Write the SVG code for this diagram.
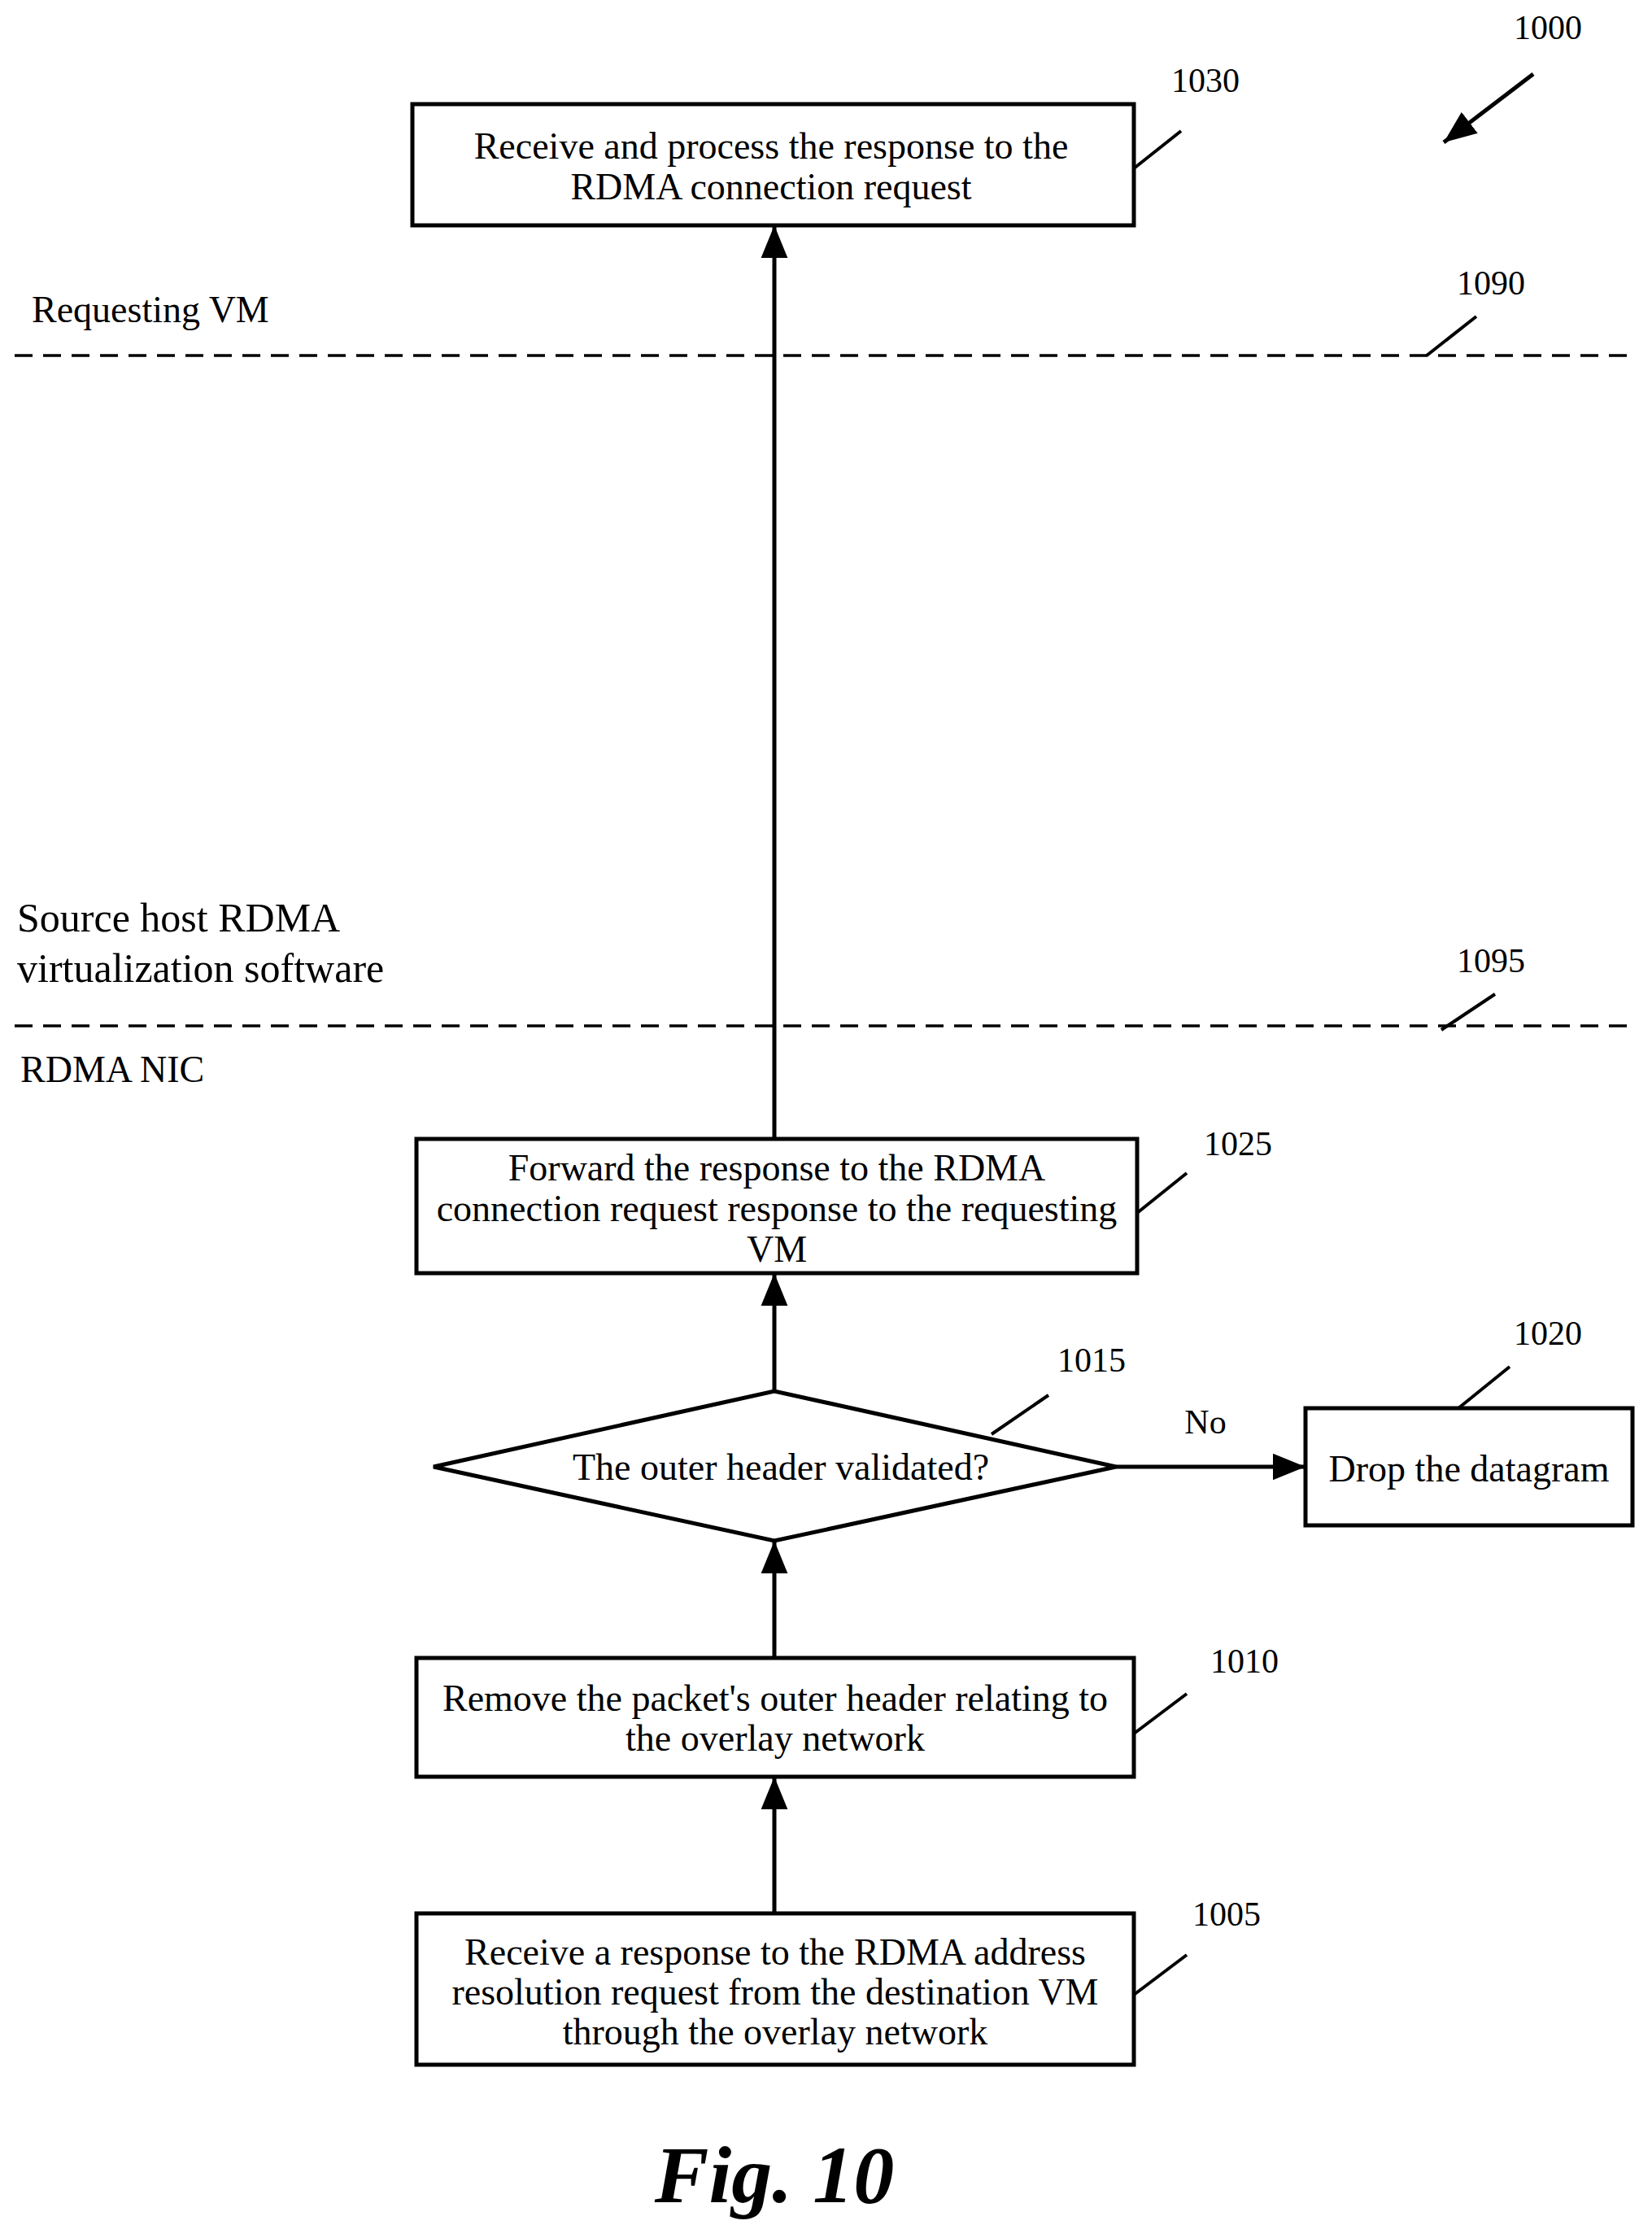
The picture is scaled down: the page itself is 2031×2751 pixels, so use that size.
<svg xmlns="http://www.w3.org/2000/svg" width="2031" height="2751" viewBox="0 0 2031 2751">
<style>
text{font-family:"Liberation Serif","Times New Roman",serif;font-size:46px;fill:#000}
.c{text-anchor:middle}
.n{font-size:42px}
.b{fill:#fff;stroke:#000;stroke-width:5}
.l{stroke:#000;stroke-width:4;fill:none}
.a{stroke:#000;stroke-width:5;fill:none;marker-end:url(#ah)}
.d{stroke:#000;stroke-width:3.5;stroke-dasharray:22,13;fill:none}
</style>
<defs>
<marker id="ah" markerUnits="userSpaceOnUse" markerWidth="40" markerHeight="36" refX="44" refY="18" orient="auto" viewBox="0 0 44 36">
<path d="M0,0 L44,18 L0,36 Z" fill="#000"/>
</marker>
</defs>
<rect width="2031" height="2751" fill="#fff"/>
<g id="lanes">
<line class="d" x1="18" y1="437" x2="2000" y2="437"/>
<line class="d" x1="18" y1="1261" x2="2000" y2="1261"/>
<text x="39" y="396">Requesting VM</text>
<text x="21" y="1145" style="font-size:50px">Source host RDMA</text>
<text x="21" y="1207" style="font-size:50px">virtualization software</text>
<text x="25" y="1330">RDMA NIC</text>
<text x="1833" y="362" class="c n">1090</text>
<line class="l" x1="1754" y1="437" x2="1815" y2="389"/>
<text x="1833" y="1195" class="c n">1095</text>
<line class="l" x1="1772" y1="1266" x2="1838" y2="1222"/>
</g>
<g id="connectors">
<line class="a" x1="952" y1="2352" x2="952" y2="2184"/>
<line class="a" x1="952" y1="2038" x2="952" y2="1894"/>
<line class="a" x1="952" y1="1710" x2="952" y2="1565"/>
<line class="a" x1="952" y1="1400" x2="952" y2="277"/>
<line class="a" x1="1372" y1="1803" x2="1605" y2="1803"/>
<text x="1482" y="1762" class="c n">No</text>
<line class="a" x1="1885" y1="91" x2="1775" y2="175"/>
<text x="1903" y="48" class="c n">1000</text>
</g>
<g id="n1030">
<rect class="b" x="507" y="128" width="887" height="149"/>
<text x="948" y="195" class="c">Receive and process the response to the</text>
<text x="948" y="245" class="c">RDMA connection request</text>
<text x="1482" y="113" class="c n">1030</text>
<line class="l" x1="1394" y1="207" x2="1452" y2="161"/>
</g>
<g id="n1025">
<rect class="b" x="512" y="1400" width="886" height="165"/>
<text x="955" y="1451" class="c">Forward the response to the RDMA</text>
<text x="955" y="1501" class="c">connection request response to the requesting</text>
<text x="955" y="1551" class="c">VM</text>
<text x="1522" y="1420" class="c n">1025</text>
<line class="l" x1="1398" y1="1491" x2="1459" y2="1442"/>
</g>
<g id="n1015">
<polygon class="b" points="533,1803 952,1710 1372,1803 952,1894"/>
<text x="960" y="1819" class="c">The outer header validated?</text>
<text x="1342" y="1686" class="c n">1015</text>
<line class="l" x1="1219" y1="1763" x2="1289" y2="1715"/>
</g>
<g id="n1020">
<rect class="b" x="1605" y="1731" width="402" height="144"/>
<text x="1806" y="1821" class="c">Drop the datagram</text>
<text x="1903" y="1653" class="c n">1020</text>
<line class="l" x1="1793" y1="1731" x2="1856" y2="1680"/>
</g>
<g id="n1010">
<rect class="b" x="512" y="2038" width="882" height="146"/>
<text x="953" y="2103" class="c">Remove the packet's outer header relating to</text>
<text x="953" y="2152" class="c">the overlay network</text>
<text x="1530" y="2056" class="c n">1010</text>
<line class="l" x1="1394" y1="2131" x2="1459" y2="2082"/>
</g>
<g id="n1005">
<rect class="b" x="512" y="2352" width="882" height="186"/>
<text x="953" y="2415" class="c">Receive a response to the RDMA address</text>
<text x="953" y="2464" class="c">resolution request from the destination VM</text>
<text x="953" y="2513" class="c">through the overlay network</text>
<text x="1508" y="2367" class="c n">1005</text>
<line class="l" x1="1394" y1="2452" x2="1459" y2="2403"/>
</g>
<text x="952" y="2707" class="c" style="font-size:100px;font-weight:bold;font-style:italic">Fig. 10</text>
</svg>
